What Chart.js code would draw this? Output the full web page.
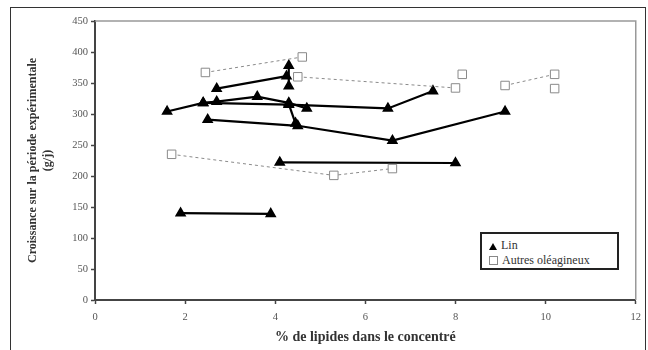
<!DOCTYPE html>
<html>
<head>
<meta charset="utf-8">
<script src="https://cdn.jsdelivr.net/npm/chart.js@4/dist/chart.umd.min.js"></script>
<style>
  body { margin: 0; background: #fff; }
  #wrap { position: relative; width: 648px; height: 350px; overflow: hidden; }
  #frame { position: absolute; left: 10px; top: 7px; width: 636px; height: 360px; border: 1.5px solid #333; box-sizing: border-box; pointer-events: none; }
  #legend { position: absolute; left: 480px; top: 232px; width: 139px; height: 38px; border: 2px solid #222; box-sizing: border-box; background: #fff;
            font-family: "Liberation Serif", serif; font-size: 12px; font-weight: normal; color: #333; }
  .row { position: absolute; left: 7px; height: 14px; line-height: 14px; white-space: nowrap; }
  .tri { display: inline-block; width: 0; height: 0; border-left: 4px solid transparent; border-right: 4px solid transparent; border-bottom: 7px solid #000; margin-right: 4px; vertical-align: -1px; }
  .sq { display: inline-block; width: 7px; height: 7px; border: 1px solid #888; background: #fff; margin-right: 4px; vertical-align: -1px; }
</style>
</head>
<body>
<div id="wrap">
  <canvas id="chart" width="648" height="350"></canvas>
  <div id="frame"></div>
  <div id="legend"></div>
</div>
<script>
// axis ticks
const xTicks = [0, 2, 4, 6, 8, 10, 12];
const yTicks = [0, 50, 100, 150, 200, 250, 300, 350, 400, 450];

// Lin (triangles, solid lines) - one array per trial
const linA = [{ x: 2.7, y: 341 }, { x: 4.25, y: 361 }];
const linA2 = [{ x: 4.3, y: 378 }, { x: 4.3, y: 345 }];
const linB = [{ x: 1.6, y: 304 }, { x: 2.4, y: 318 }, { x: 2.7, y: 320 }, { x: 3.6, y: 328 }, { x: 4.3, y: 318 }, { x: 4.7, y: 309 }];
const linC = [{ x: 2.4, y: 318 }, { x: 4.3, y: 315 }, { x: 6.5, y: 309 }, { x: 7.5, y: 337 }];
const linD = [{ x: 2.5, y: 291 }, { x: 4.5, y: 281 }, { x: 6.6, y: 257 }, { x: 9.1, y: 304 }];
const linE = [{ x: 4.3, y: 316 }, { x: 4.45, y: 285 }];
const linF = [{ x: 4.1, y: 222 }, { x: 8.0, y: 221 }];
const linG = [{ x: 1.9, y: 140 }, { x: 3.9, y: 139 }];

// Autres oléagineux (open squares, dashed lines)
const autA = [{ x: 2.45, y: 367 }, { x: 4.6, y: 392 }];
const autB = [{ x: 4.5, y: 360 }, { x: 8.0, y: 342 }];
const autC = [{ x: 8.15, y: 364 }];
const autD = [{ x: 9.1, y: 346 }, { x: 10.2, y: 364 }];
const autE = [{ x: 10.2, y: 341 }];
const autF = [{ x: 1.7, y: 235 }, { x: 5.3, y: 201 }, { x: 6.6, y: 212 }];

const linGroups = [linA, linA2, linB, linC, linD, linE, linF, linG];
const autGroups = [autA, autB, autC, autD, autE, autF];

const serif = "'Liberation Serif', 'Times New Roman', serif";

const autSets = autGroups.map(g => ({
  label: 'Autres oléagineux',
  data: g,
  borderColor: '#8a8a8a',
  borderWidth: 1,
  borderDash: [3, 3],
  pointStyle: 'rect',
  pointRadius: 6,
  pointBorderColor: '#8a8a8a',
  pointBorderWidth: 1,
  pointBackgroundColor: '#fff',
  showLine: true,
  tension: 0
}));

const linSets = linGroups.map(g => ({
  label: 'Lin',
  data: g,
  borderColor: '#000',
  borderWidth: 2.2,
  pointStyle: 'triangle',
  pointRadius: 4.5,
  pointBorderColor: '#000',
  pointBackgroundColor: '#000',
  showLine: true,
  tension: 0
}));

// gray frame around the plot area (top and right edges)
const plotBorder = {
  id: 'plotBorder',
  beforeDatasetsDraw(chart) {
    const { ctx, chartArea: a } = chart;
    ctx.save();
    ctx.strokeStyle = '#999';
    ctx.lineWidth = 1.5;
    ctx.beginPath();
    ctx.moveTo(a.left, a.top);
    ctx.lineTo(a.right, a.top);
    ctx.lineTo(a.right, a.bottom);
    ctx.stroke();
    ctx.restore();
  }
};

new Chart(document.getElementById('chart'), {
  type: 'scatter',
  data: { datasets: [...autSets, ...linSets] },
  options: {
    responsive: false,
    animation: false,
    layout: { padding: { left: 0, top: 21, right: 9, bottom: 0 } },
    plugins: { legend: { display: false }, tooltip: { enabled: false } },
    scales: {
      x: {
        type: 'linear', min: 0, max: 12,
        afterFit: s => { s.height = 50; },
        afterBuildTicks: s => { s.ticks = xTicks.map(v => ({ value: v })); },
        grid: { drawOnChartArea: false, drawTicks: true, tickLength: 4, tickColor: '#444', tickWidth: 1.5 },
        border: { display: true, color: '#444', width: 2 },
        ticks: { font: { family: serif, size: 10.5 }, color: '#555', padding: 7, maxRotation: 0 },
        title: { display: true, text: '% de lipides dans le concentré', font: { family: serif, size: 14, weight: 'bold' }, color: '#333', padding: { top: 0, bottom: 4 } }
      },
      y: {
        min: 0, max: 450,
        afterFit: s => { s.width = 95; },
        afterBuildTicks: s => { s.ticks = yTicks.map(v => ({ value: v })); },
        grid: { drawOnChartArea: false, drawTicks: true, tickLength: 4, tickColor: '#444', tickWidth: 1.5 },
        border: { display: true, color: '#444', width: 2 },
        ticks: { font: { family: serif, size: 10.5 }, color: '#555', padding: 3 },
        title: { display: true, text: ['Croissance sur la période expérimentale', '(g/j)'], font: { family: serif, size: 12, weight: 'bold' }, color: '#333', padding: { top: 26, bottom: 0 } }
      }
    }
  },
  plugins: [plotBorder]
});

// legend box
const legendItems = [
  { label: 'Lin', mark: 'tri', top: 4 },
  { label: 'Autres oléagineux', mark: 'sq', top: 19 }
];
document.getElementById('legend').innerHTML = legendItems.map(it =>
  `<div class="row" style="top:${it.top}px"><span class="${it.mark}"></span>${it.label}</div>`
).join('');
</script>
</body>
</html>
